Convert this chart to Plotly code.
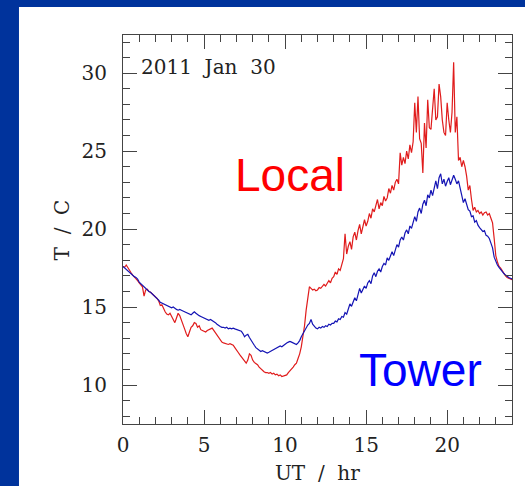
import plotly.graph_objects as go

# sample times (hours UT), 0.1 hr spacing
hours = [round(i * 0.1, 1) for i in range(241)]

tower = [
    17.6, 17.5, 17.4, 17.3, 17.2, 17.1, 17.0, 16.95, 16.9, 16.8,
    16.6, 16.5, 16.35, 16.3, 16.15, 16.1, 16.0, 15.95, 15.85, 15.8,
    15.7, 15.6, 15.45, 15.3, 15.25, 15.2, 15.15, 15.1, 15.05, 15.0,
    14.95, 15.0, 14.9, 14.85, 14.8, 14.85, 14.8, 14.75, 14.7, 14.65,
    14.55, 14.5, 14.5, 14.6, 14.7, 14.6, 14.5, 14.45, 14.4, 14.35,
    14.25, 14.2, 14.2, 14.15, 14.2, 14.15, 14.1, 14.0, 13.9, 13.8,
    13.75, 13.7, 13.7, 13.65, 13.7, 13.6, 13.65, 13.6, 13.65, 13.6,
    13.55, 13.5, 13.5, 13.45, 13.3, 13.1, 13.2, 13.25, 13.05, 12.85,
    12.7, 12.55, 12.4, 12.3, 12.2, 12.15, 12.2, 12.15, 12.1, 12.05,
    12.1, 12.15, 12.2, 12.25, 12.3, 12.35, 12.4, 12.5, 12.45, 12.55,
    12.6, 12.7, 12.75, 12.8, 12.75, 12.7, 12.65, 12.6, 12.7, 12.85,
    13.1, 13.3, 13.5, 13.7, 13.85, 13.95, 14.2, 13.9, 13.75, 13.65,
    13.6, 13.7, 13.65, 13.75, 13.7, 13.8, 13.75, 13.9, 13.85, 13.95,
    13.95, 14.1, 14.05, 14.25, 14.2, 14.4, 14.35, 14.65, 14.55, 14.9,
    15.2, 15.05, 15.3, 15.6, 15.4, 15.75, 16.2, 15.9, 16.1, 16.35,
    16.2, 16.55, 16.7, 16.5, 17.0, 17.2, 16.95, 17.3, 17.45, 17.25,
    17.6, 17.8, 17.7, 18.15, 18.0, 18.35, 18.55, 18.3, 18.75, 19.0,
    18.85, 19.3, 19.5, 19.3, 19.75, 19.95, 19.7, 20.2, 20.05, 20.45,
    20.8, 20.5, 21.1, 21.35, 21.0, 21.6, 21.85, 21.5, 22.2, 22.0,
    22.5, 22.15, 22.7, 23.1, 22.6, 23.3, 23.55, 22.9, 23.2, 22.75,
    23.05, 23.3, 22.85, 23.1, 23.45, 23.2, 22.9, 23.1, 22.6, 22.3,
    21.7, 21.95, 21.5, 21.25, 21.15, 20.8, 20.85, 20.45, 20.55, 20.25,
    20.1, 20.0, 19.85, 19.9, 19.6, 19.55, 19.4, 19.1, 18.8, 18.2,
    17.9, 17.7, 17.55, 17.4, 17.3, 17.15, 17.05, 16.95, 16.9, 16.85,
    16.8,
]

local = [
    17.6, 17.55, 17.7, 17.5, 17.35, 17.2, 17.05, 16.95, 16.85, 16.7,
    16.55, 16.4, 16.3, 15.7, 16.1, 16.15, 16.0, 15.95, 15.85, 15.8,
    15.65, 15.55, 15.4, 15.1, 15.15, 14.9, 14.7, 14.55, 14.5, 14.6,
    14.4, 14.2, 14.0, 14.3, 14.6, 14.45, 14.2, 13.9, 13.6, 13.3,
    13.1, 13.4, 13.7, 13.8, 14.0, 13.95, 13.7, 13.8, 13.55, 13.5,
    13.45, 13.4, 13.5, 13.55, 13.6, 13.65, 13.5, 13.35, 13.2, 13.0,
    12.85, 12.75, 12.7, 12.65, 12.6, 12.6, 12.65, 12.6, 12.55, 12.4,
    12.2, 12.1, 11.95, 11.8, 11.65, 11.5, 11.4, 11.6, 12.0, 11.9,
    11.6, 11.45, 11.4, 11.3, 11.15, 11.05, 10.9, 10.85, 10.8, 10.8,
    10.75, 10.8, 10.7, 10.75, 10.65, 10.7, 10.6, 10.65, 10.55, 10.6,
    10.6, 10.65, 10.8, 10.9, 11.0, 11.15, 11.3, 11.4, 11.7, 12.0,
    12.45, 13.1, 13.8, 14.8, 15.7, 16.3, 16.2, 16.1, 16.15, 16.05,
    16.1, 16.25, 16.2, 16.3, 16.45, 16.35, 16.5, 16.7, 16.55, 16.85,
    16.95, 17.25, 17.1, 17.45, 17.35, 17.8, 18.1, 19.7, 18.4, 18.9,
    19.2, 18.7, 19.5, 19.8, 19.3, 19.9, 20.3, 19.7, 20.2, 20.6,
    20.2, 20.5, 21.0, 20.7, 21.3, 21.1, 21.5, 21.9, 21.3, 21.7,
    21.5, 22.1, 21.8, 22.0, 22.6, 22.3, 22.8, 22.5, 23.0, 23.2,
    22.9, 24.9, 24.1, 24.6, 24.2, 25.0, 24.5, 25.4, 24.9, 25.6,
    28.1, 26.2, 28.5, 25.8, 25.5, 23.6, 26.8, 25.2, 28.3, 26.5,
    26.4, 27.8, 29.0, 27.0, 27.2, 29.3, 28.5, 27.0, 26.2, 26.0,
    28.1, 27.0, 26.2, 27.5, 30.7, 26.2, 27.2, 24.4, 24.6, 24.0,
    24.4, 24.0, 23.4, 22.5, 22.8, 21.9, 21.2, 21.4, 21.1, 21.2,
    21.0, 21.1, 20.9, 21.05, 21.1, 20.9, 21.0, 20.7, 20.4, 19.4,
    18.3, 17.9, 17.6, 17.5, 17.3, 17.15, 17.0, 16.9, 16.85, 16.8,
    16.75,
]

x_ticks = [0, 5, 10, 15, 20]
y_ticks = [10, 15, 20, 25, 30]

fig = go.Figure()
fig.add_trace(go.Scatter(x=hours, y=local, mode="lines",
                         line=dict(color="#e01c1c", width=1.2), name="Local"))
fig.add_trace(go.Scatter(x=hours, y=tower, mode="lines",
                         line=dict(color="#1414b4", width=1.2), name="Tower"))

serif = "DejaVu Serif"
axis_common = dict(
    ticks="inside", ticklen=14, tickwidth=1, tickcolor="#444",
    showline=True, linecolor="#444", linewidth=1, mirror="allticks",
    showgrid=False, zeroline=False,
    tickfont=dict(family=serif, size=20, color="#222"),
    minor=dict(ticks="inside", ticklen=7, tickwidth=1, tickcolor="#444", dtick=1, showgrid=False),
)

fig.update_layout(
    width=525, height=486,
    margin=dict(l=123, r=13, t=35, b=62),
    paper_bgcolor="#00339c",
    plot_bgcolor="white",
    showlegend=False,
    xaxis=dict(range=[0, 24], tickvals=x_ticks, ticklabelstandoff=3, **axis_common),
    yaxis=dict(range=[7.5, 32.45], tickvals=y_ticks, ticklabelstandoff=11, **axis_common),
    shapes=[dict(type="rect", xref="paper", yref="paper",
                 x0=-0.2674, x1=1.1, y0=-0.3, y1=1.072,
                 fillcolor="white", line=dict(width=0), layer="below")],
    annotations=[
        dict(text="2011\u00a0\u00a0Jan\u00a0\u00a030", x=1.0, y=30.4, xref="x", yref="y",
             xanchor="left", yanchor="middle", showarrow=False,
             font=dict(family=serif, size=20, color="#222")),
        dict(text="Local", x=10.3, y=23.5, xref="x", yref="y",
             xanchor="center", yanchor="middle", showarrow=False,
             font=dict(family="Liberation Sans", size=46, color="#ff0000")),
        dict(text="Tower", x=18.35, y=10.95, xref="x", yref="y",
             xanchor="center", yanchor="middle", showarrow=False,
             font=dict(family="Liberation Sans", size=46, color="#0000ff")),
        dict(text="T\u00a0\u00a0/\u00a0\u00a0C", x=-0.157, y=0.5, xref="paper", yref="paper",
             xanchor="center", yanchor="middle", textangle=-90, showarrow=False,
             font=dict(family=serif, size=20, color="#222")),
        dict(text="UT\u00a0\u00a0/\u00a0\u00a0hr", x=0.5, y=-0.126, xref="paper", yref="paper",
             xanchor="center", yanchor="middle", showarrow=False,
             font=dict(family=serif, size=20, color="#222")),
    ],
)

fig.write_html("out.html", config={"displayModeBar": False},
               post_script="document.body.style.margin='0px';")
